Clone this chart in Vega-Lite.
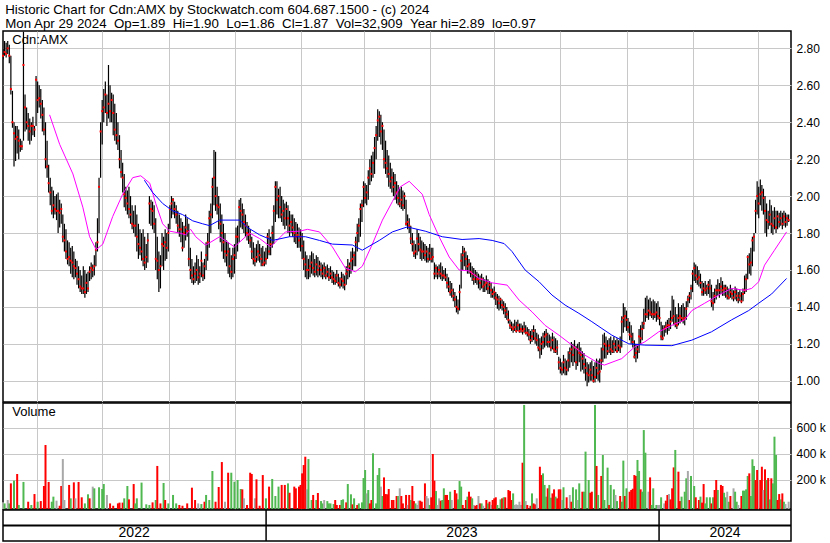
{
"$schema":"https://vega.github.io/schema/vega-lite/v6.json",
"padding":{"left":1,"top":2,"right":0,"bottom":0},
"background":"white",
"bounds":"flush",
"resolve":{"scale":{"color":"independent"}},
"title":{"text":["Historic Chart for Cdn:AMX by Stockwatch.com 604.687.1500 - (c) 2024","Mon Apr 29 2024 \u00a0Op=1.89 \u00a0Hi=1.90 \u00a0Lo=1.86 \u00a0Cl=1.87 \u00a0Vol=32,909 \u00a0Year hi=2.89 \u00a0lo=0.97"],"anchor":"start","font":"Liberation Sans","fontSize":13.3,"fontWeight":"normal","lineHeight":14,"color":"black","offset":0,"dx":4},
"spacing":1,
"config":{"view":{"stroke":"black","strokeWidth":1.5},"font":"Liberation Sans","axis":{"labelFont":"Liberation Sans","labelFontSize":12,"labelColor":"#000000","gridColor":"#c8c8c8","gridWidth":1,"ticks":false,"domain":false,"title":null,"labelOverlap":false}},
"datasets":{
"px":[
{"d":0,"h":2.8,"l":2.74,"c":2.76},{"d":1,"h":2.84,"l":2.76,"c":2.78},{"d":2,"h":2.83,"l":2.75,"c":2.77},{"d":3,"h":2.84,"l":2.77,"c":2.8},{"d":4,"h":2.82,"l":2.72,"c":2.76},{"d":5,"h":2.76,"l":2.55,"c":2.58},{"d":6,"h":2.57,"l":2.37,"c":2.4},{"d":7,"h":2.4,"l":2.16,"c":2.34},{"d":8,"h":2.38,"l":2.19,"c":2.31},{"d":9,"h":2.38,"l":2.23,"c":2.32},
{"d":10,"h":2.36,"l":2.2,"c":2.3},{"d":11,"h":2.31,"l":2.24,"c":2.27},{"d":12,"h":2.3,"l":2.25,"c":2.27},{"d":13,"h":2.89,"l":2.3,"c":2.71},{"d":14,"h":2.55,"l":2.35,"c":2.48},{"d":15,"h":2.48,"l":2.36,"c":2.4},{"d":16,"h":2.45,"l":2.3,"c":2.38},{"d":17,"h":2.42,"l":2.28,"c":2.35},{"d":18,"h":2.4,"l":2.3,"c":2.38},{"d":19,"h":2.43,"l":2.33,"c":2.38},
{"d":20,"h":2.38,"l":2.32,"c":2.36},{"d":21,"h":2.65,"l":2.38,"c":2.63},{"d":22,"h":2.62,"l":2.45,"c":2.52},{"d":23,"h":2.6,"l":2.48,"c":2.53},{"d":24,"h":2.58,"l":2.42,"c":2.5},{"d":25,"h":2.52,"l":2.35,"c":2.44},{"d":26,"h":2.48,"l":2.33,"c":2.36},{"d":27,"h":2.4,"l":2.15,"c":2.2},{"d":28,"h":2.3,"l":2.1,"c":2.16},{"d":29,"h":2.17,"l":2.02,"c":2.07},
{"d":30,"h":2.1,"l":1.95,"c":2.02},{"d":31,"h":2.05,"l":1.9,"c":1.92},{"d":32,"h":2.03,"l":1.88,"c":1.95},{"d":33,"h":2.0,"l":1.9,"c":1.93},{"d":34,"h":2.01,"l":1.87,"c":1.92},{"d":35,"h":2.02,"l":1.8,"c":1.92},{"d":36,"h":1.98,"l":1.83,"c":1.91},{"d":37,"h":1.96,"l":1.85,"c":1.93},{"d":38,"h":1.9,"l":1.75,"c":1.78},{"d":39,"h":1.85,"l":1.7,"c":1.76},
{"d":40,"h":1.82,"l":1.66,"c":1.7},{"d":41,"h":1.76,"l":1.63,"c":1.66},{"d":42,"h":1.75,"l":1.62,"c":1.67},{"d":43,"h":1.72,"l":1.58,"c":1.65},{"d":44,"h":1.73,"l":1.56,"c":1.64},{"d":45,"h":1.7,"l":1.55,"c":1.62},{"d":46,"h":1.66,"l":1.56,"c":1.61},{"d":47,"h":1.65,"l":1.52,"c":1.58},{"d":48,"h":1.62,"l":1.5,"c":1.55},{"d":49,"h":1.6,"l":1.48,"c":1.51},
{"d":50,"h":1.57,"l":1.47,"c":1.5},{"d":51,"h":1.62,"l":1.47,"c":1.5},{"d":52,"h":1.6,"l":1.45,"c":1.48},{"d":53,"h":1.58,"l":1.47,"c":1.53},{"d":54,"h":1.59,"l":1.48,"c":1.5},{"d":55,"h":1.62,"l":1.54,"c":1.59},{"d":56,"h":1.64,"l":1.55,"c":1.61},{"d":57,"h":1.63,"l":1.56,"c":1.6},{"d":58,"h":1.68,"l":1.57,"c":1.62},{"d":59,"h":1.75,"l":1.62,"c":1.71},
{"d":60,"h":1.88,"l":1.7,"c":1.75},{"d":61,"h":2.1,"l":1.8,"c":2.05},{"d":62,"h":2.4,"l":2.1,"c":2.35},{"d":63,"h":2.52,"l":2.28,"c":2.46},{"d":64,"h":2.58,"l":2.4,"c":2.48},{"d":65,"h":2.62,"l":2.45,"c":2.55},{"d":66,"h":2.55,"l":2.38,"c":2.45},{"d":67,"h":2.71,"l":2.42,"c":2.5},{"d":68,"h":2.6,"l":2.4,"c":2.46},{"d":69,"h":2.56,"l":2.4,"c":2.52},
{"d":70,"h":2.55,"l":2.33,"c":2.45},{"d":71,"h":2.5,"l":2.3,"c":2.36},{"d":72,"h":2.45,"l":2.28,"c":2.33},{"d":73,"h":2.4,"l":2.25,"c":2.3},{"d":74,"h":2.33,"l":2.15,"c":2.2},{"d":75,"h":2.25,"l":2.1,"c":2.13},{"d":76,"h":2.18,"l":2.02,"c":2.1},{"d":77,"h":2.12,"l":1.94,"c":2.01},{"d":78,"h":2.05,"l":1.92,"c":1.99},{"d":79,"h":2.03,"l":1.9,"c":1.96},
{"d":80,"h":2.05,"l":1.88,"c":1.93},{"d":81,"h":2.0,"l":1.85,"c":1.9},{"d":82,"h":1.95,"l":1.82,"c":1.85},{"d":83,"h":1.92,"l":1.8,"c":1.84},{"d":84,"h":1.95,"l":1.78,"c":1.84},{"d":85,"h":1.9,"l":1.7,"c":1.78},{"d":86,"h":1.85,"l":1.66,"c":1.74},{"d":87,"h":1.82,"l":1.68,"c":1.72},{"d":88,"h":1.8,"l":1.65,"c":1.7},{"d":89,"h":1.82,"l":1.62,"c":1.66},
{"d":90,"h":1.78,"l":1.6,"c":1.64},{"d":91,"h":1.74,"l":1.61,"c":1.67},{"d":92,"h":1.8,"l":1.64,"c":1.76},{"d":93,"h":2.0,"l":1.85,"c":1.96},{"d":94,"h":1.98,"l":1.84,"c":1.93},{"d":95,"h":1.97,"l":1.82,"c":1.92},{"d":96,"h":1.95,"l":1.8,"c":1.85},{"d":97,"h":1.88,"l":1.6,"c":1.66},{"d":98,"h":1.78,"l":1.55,"c":1.65},{"d":99,"h":1.7,"l":1.48,"c":1.6},
{"d":100,"h":1.68,"l":1.5,"c":1.62},{"d":101,"h":1.8,"l":1.62,"c":1.74},{"d":102,"h":1.78,"l":1.6,"c":1.73},{"d":103,"h":1.82,"l":1.65,"c":1.75},{"d":104,"h":1.8,"l":1.66,"c":1.72},{"d":105,"h":1.85,"l":1.7,"c":1.8},{"d":106,"h":1.95,"l":1.82,"c":1.93},{"d":107,"h":2.0,"l":1.88,"c":1.96},{"d":108,"h":1.99,"l":1.9,"c":1.98},{"d":109,"h":1.97,"l":1.88,"c":1.93},
{"d":110,"h":1.95,"l":1.85,"c":1.9},{"d":111,"h":1.92,"l":1.8,"c":1.84},{"d":112,"h":1.9,"l":1.78,"c":1.82},{"d":113,"h":1.88,"l":1.75,"c":1.82},{"d":114,"h":1.86,"l":1.7,"c":1.72},{"d":115,"h":1.84,"l":1.72,"c":1.8},{"d":116,"h":1.9,"l":1.76,"c":1.83},{"d":117,"h":1.88,"l":1.78,"c":1.81},{"d":118,"h":1.85,"l":1.62,"c":1.66},{"d":119,"h":1.72,"l":1.55,"c":1.6},
{"d":120,"h":1.66,"l":1.53,"c":1.57},{"d":121,"h":1.62,"l":1.52,"c":1.55},{"d":122,"h":1.64,"l":1.53,"c":1.58},{"d":123,"h":1.68,"l":1.54,"c":1.6},{"d":124,"h":1.66,"l":1.52,"c":1.56},{"d":125,"h":1.62,"l":1.53,"c":1.58},{"d":126,"h":1.7,"l":1.56,"c":1.65},{"d":127,"h":1.64,"l":1.54,"c":1.57},{"d":128,"h":1.66,"l":1.55,"c":1.62},{"d":129,"h":1.75,"l":1.6,"c":1.68},
{"d":130,"h":1.8,"l":1.65,"c":1.75},{"d":131,"h":1.92,"l":1.72,"c":1.88},{"d":132,"h":1.96,"l":1.8,"c":1.9},{"d":133,"h":2.1,"l":1.88,"c":2.05},{"d":134,"h":2.25,"l":1.95,"c":2.1},{"d":135,"h":2.24,"l":1.92,"c":2.0},{"d":136,"h":2.05,"l":1.9,"c":1.95},{"d":137,"h":2.0,"l":1.82,"c":1.94},{"d":138,"h":1.96,"l":1.75,"c":1.85},{"d":139,"h":1.9,"l":1.7,"c":1.8},
{"d":140,"h":1.85,"l":1.66,"c":1.75},{"d":141,"h":1.8,"l":1.64,"c":1.7},{"d":142,"h":1.76,"l":1.62,"c":1.68},{"d":143,"h":1.75,"l":1.58,"c":1.7},{"d":144,"h":1.72,"l":1.56,"c":1.62},{"d":145,"h":1.68,"l":1.55,"c":1.59},{"d":146,"h":1.72,"l":1.56,"c":1.66},{"d":147,"h":1.74,"l":1.58,"c":1.68},{"d":148,"h":1.83,"l":1.66,"c":1.78},{"d":149,"h":1.84,"l":1.7,"c":1.78},
{"d":150,"h":1.98,"l":1.75,"c":1.94},{"d":151,"h":1.99,"l":1.83,"c":1.92},{"d":152,"h":1.96,"l":1.82,"c":1.9},{"d":153,"h":1.93,"l":1.8,"c":1.86},{"d":154,"h":1.9,"l":1.78,"c":1.84},{"d":155,"h":1.86,"l":1.76,"c":1.8},{"d":156,"h":1.84,"l":1.74,"c":1.79},{"d":157,"h":1.82,"l":1.72,"c":1.76},{"d":158,"h":1.78,"l":1.66,"c":1.7},{"d":159,"h":1.75,"l":1.63,"c":1.66},
{"d":160,"h":1.72,"l":1.62,"c":1.65},{"d":161,"h":1.74,"l":1.64,"c":1.67},{"d":162,"h":1.76,"l":1.65,"c":1.7},{"d":163,"h":1.74,"l":1.64,"c":1.68},{"d":164,"h":1.72,"l":1.62,"c":1.66},{"d":165,"h":1.73,"l":1.62,"c":1.63},{"d":166,"h":1.7,"l":1.62,"c":1.64},{"d":167,"h":1.72,"l":1.63,"c":1.66},{"d":168,"h":1.8,"l":1.66,"c":1.78},{"d":169,"h":1.82,"l":1.68,"c":1.7},
{"d":170,"h":1.78,"l":1.68,"c":1.74},{"d":171,"h":1.84,"l":1.72,"c":1.8},{"d":172,"h":1.95,"l":1.74,"c":1.92},{"d":173,"h":2.08,"l":1.86,"c":2.05},{"d":174,"h":2.08,"l":1.9,"c":1.98},{"d":175,"h":2.04,"l":1.88,"c":2.0},{"d":176,"h":2.05,"l":1.88,"c":1.94},{"d":177,"h":2.0,"l":1.86,"c":1.9},{"d":178,"h":1.98,"l":1.84,"c":1.92},{"d":179,"h":1.96,"l":1.82,"c":1.88},
{"d":180,"h":1.97,"l":1.84,"c":1.93},{"d":181,"h":1.95,"l":1.8,"c":1.88},{"d":182,"h":1.92,"l":1.78,"c":1.84},{"d":183,"h":1.9,"l":1.8,"c":1.86},{"d":184,"h":1.9,"l":1.78,"c":1.83},{"d":185,"h":1.88,"l":1.75,"c":1.8},{"d":186,"h":1.86,"l":1.74,"c":1.78},{"d":187,"h":1.85,"l":1.72,"c":1.79},{"d":188,"h":1.83,"l":1.72,"c":1.76},{"d":189,"h":1.82,"l":1.7,"c":1.78},
{"d":190,"h":1.8,"l":1.66,"c":1.73},{"d":191,"h":1.76,"l":1.6,"c":1.66},{"d":192,"h":1.7,"l":1.56,"c":1.63},{"d":193,"h":1.68,"l":1.55,"c":1.6},{"d":194,"h":1.66,"l":1.55,"c":1.6},{"d":195,"h":1.68,"l":1.56,"c":1.62},{"d":196,"h":1.7,"l":1.58,"c":1.64},{"d":197,"h":1.69,"l":1.57,"c":1.61},{"d":198,"h":1.66,"l":1.56,"c":1.59},{"d":199,"h":1.68,"l":1.57,"c":1.63},
{"d":200,"h":1.67,"l":1.56,"c":1.6},{"d":201,"h":1.65,"l":1.57,"c":1.62},{"d":202,"h":1.64,"l":1.56,"c":1.6},{"d":203,"h":1.63,"l":1.55,"c":1.58},{"d":204,"h":1.64,"l":1.56,"c":1.61},{"d":205,"h":1.62,"l":1.55,"c":1.57},{"d":206,"h":1.63,"l":1.56,"c":1.59},{"d":207,"h":1.61,"l":1.54,"c":1.56},{"d":208,"h":1.62,"l":1.55,"c":1.58},{"d":209,"h":1.6,"l":1.53,"c":1.56},
{"d":210,"h":1.59,"l":1.52,"c":1.55},{"d":211,"h":1.58,"l":1.52,"c":1.54},{"d":212,"h":1.6,"l":1.53,"c":1.57},{"d":213,"h":1.58,"l":1.51,"c":1.53},{"d":214,"h":1.56,"l":1.5,"c":1.52},{"d":215,"h":1.59,"l":1.51,"c":1.55},{"d":216,"h":1.58,"l":1.5,"c":1.54},{"d":217,"h":1.57,"l":1.49,"c":1.52},{"d":218,"h":1.62,"l":1.52,"c":1.58},{"d":219,"h":1.66,"l":1.55,"c":1.6},
{"d":220,"h":1.64,"l":1.56,"c":1.62},{"d":221,"h":1.7,"l":1.58,"c":1.65},{"d":222,"h":1.72,"l":1.6,"c":1.66},{"d":223,"h":1.7,"l":1.62,"c":1.68},{"d":224,"h":1.78,"l":1.62,"c":1.75},{"d":225,"h":1.85,"l":1.7,"c":1.8},{"d":226,"h":1.88,"l":1.75,"c":1.84},{"d":227,"h":1.96,"l":1.78,"c":1.93},{"d":228,"h":1.98,"l":1.86,"c":1.95},{"d":229,"h":2.08,"l":1.94,"c":2.05},
{"d":230,"h":2.07,"l":1.96,"c":1.99},{"d":231,"h":2.06,"l":1.95,"c":2.02},{"d":232,"h":2.14,"l":1.98,"c":2.1},{"d":233,"h":2.2,"l":2.06,"c":2.15},{"d":234,"h":2.22,"l":2.08,"c":2.12},{"d":235,"h":2.24,"l":2.1,"c":2.18},{"d":236,"h":2.32,"l":2.12,"c":2.26},{"d":237,"h":2.38,"l":2.2,"c":2.33},{"d":238,"h":2.47,"l":2.3,"c":2.41},{"d":239,"h":2.46,"l":2.32,"c":2.43},
{"d":240,"h":2.44,"l":2.28,"c":2.35},{"d":241,"h":2.4,"l":2.25,"c":2.38},{"d":242,"h":2.36,"l":2.15,"c":2.2},{"d":243,"h":2.3,"l":2.12,"c":2.18},{"d":244,"h":2.25,"l":2.1,"c":2.15},{"d":245,"h":2.22,"l":2.05,"c":2.12},{"d":246,"h":2.18,"l":2.04,"c":2.08},{"d":247,"h":2.15,"l":2.02,"c":2.1},{"d":248,"h":2.13,"l":2.0,"c":2.05},{"d":249,"h":2.12,"l":1.98,"c":2.07},
{"d":250,"h":2.08,"l":1.96,"c":2.02},{"d":251,"h":2.06,"l":1.95,"c":1.99},{"d":252,"h":2.04,"l":1.94,"c":1.96},{"d":253,"h":2.05,"l":1.93,"c":1.98},{"d":254,"h":2.03,"l":1.92,"c":1.95},{"d":255,"h":2.02,"l":1.93,"c":2.0},{"d":256,"h":1.98,"l":1.84,"c":1.85},{"d":257,"h":1.9,"l":1.82,"c":1.86},{"d":258,"h":1.88,"l":1.8,"c":1.84},{"d":259,"h":1.84,"l":1.74,"c":1.77},
{"d":260,"h":1.8,"l":1.7,"c":1.74},{"d":261,"h":1.76,"l":1.67,"c":1.69},{"d":262,"h":1.74,"l":1.66,"c":1.7},{"d":263,"h":1.82,"l":1.68,"c":1.77},{"d":264,"h":1.8,"l":1.7,"c":1.74},{"d":265,"h":1.78,"l":1.66,"c":1.71},{"d":266,"h":1.76,"l":1.65,"c":1.7},{"d":267,"h":1.75,"l":1.66,"c":1.7},{"d":268,"h":1.74,"l":1.65,"c":1.68},{"d":269,"h":1.73,"l":1.64,"c":1.7},
{"d":270,"h":1.72,"l":1.64,"c":1.66},{"d":271,"h":1.74,"l":1.65,"c":1.69},{"d":272,"h":1.72,"l":1.64,"c":1.66},{"d":273,"h":1.72,"l":1.64,"c":1.67},{"d":274,"h":1.64,"l":1.55,"c":1.58},{"d":275,"h":1.63,"l":1.56,"c":1.61},{"d":276,"h":1.62,"l":1.55,"c":1.58},{"d":277,"h":1.63,"l":1.56,"c":1.6},{"d":278,"h":1.64,"l":1.55,"c":1.58},{"d":279,"h":1.62,"l":1.54,"c":1.57},
{"d":280,"h":1.6,"l":1.55,"c":1.57},{"d":281,"h":1.61,"l":1.54,"c":1.56},{"d":282,"h":1.58,"l":1.5,"c":1.53},{"d":283,"h":1.56,"l":1.48,"c":1.51},{"d":284,"h":1.54,"l":1.46,"c":1.48},{"d":285,"h":1.53,"l":1.45,"c":1.49},{"d":286,"h":1.5,"l":1.43,"c":1.46},{"d":287,"h":1.48,"l":1.4,"c":1.44},{"d":288,"h":1.46,"l":1.37,"c":1.4},{"d":289,"h":1.44,"l":1.36,"c":1.39},
{"d":290,"h":1.52,"l":1.38,"c":1.48},{"d":291,"h":1.69,"l":1.5,"c":1.65},{"d":292,"h":1.73,"l":1.6,"c":1.68},{"d":293,"h":1.72,"l":1.62,"c":1.7},{"d":294,"h":1.7,"l":1.6,"c":1.66},{"d":295,"h":1.68,"l":1.58,"c":1.62},{"d":296,"h":1.66,"l":1.58,"c":1.63},{"d":297,"h":1.64,"l":1.56,"c":1.59},{"d":298,"h":1.62,"l":1.54,"c":1.58},{"d":299,"h":1.61,"l":1.52,"c":1.55},
{"d":300,"h":1.6,"l":1.53,"c":1.57},{"d":301,"h":1.59,"l":1.52,"c":1.55},{"d":302,"h":1.58,"l":1.5,"c":1.55},{"d":303,"h":1.57,"l":1.49,"c":1.53},{"d":304,"h":1.58,"l":1.5,"c":1.55},{"d":305,"h":1.56,"l":1.48,"c":1.51},{"d":306,"h":1.55,"l":1.48,"c":1.52},{"d":307,"h":1.57,"l":1.49,"c":1.53},{"d":308,"h":1.55,"l":1.47,"c":1.5},{"d":309,"h":1.54,"l":1.47,"c":1.52},
{"d":310,"h":1.53,"l":1.45,"c":1.49},{"d":311,"h":1.5,"l":1.45,"c":1.47},{"d":312,"h":1.51,"l":1.44,"c":1.48},{"d":313,"h":1.48,"l":1.41,"c":1.45},{"d":314,"h":1.47,"l":1.39,"c":1.44},{"d":315,"h":1.46,"l":1.38,"c":1.42},{"d":316,"h":1.45,"l":1.39,"c":1.44},{"d":317,"h":1.44,"l":1.38,"c":1.41},{"d":318,"h":1.43,"l":1.36,"c":1.4},{"d":319,"h":1.42,"l":1.34,"c":1.38},
{"d":320,"h":1.4,"l":1.33,"c":1.36},{"d":321,"h":1.38,"l":1.31,"c":1.33},{"d":322,"h":1.33,"l":1.28,"c":1.3},{"d":323,"h":1.32,"l":1.27,"c":1.29},{"d":324,"h":1.31,"l":1.26,"c":1.28},{"d":325,"h":1.33,"l":1.27,"c":1.29},{"d":326,"h":1.32,"l":1.26,"c":1.27},{"d":327,"h":1.33,"l":1.27,"c":1.3},{"d":328,"h":1.31,"l":1.26,"c":1.27},{"d":329,"h":1.31,"l":1.26,"c":1.28},
{"d":330,"h":1.3,"l":1.25,"c":1.27},{"d":331,"h":1.32,"l":1.26,"c":1.28},{"d":332,"h":1.3,"l":1.25,"c":1.26},{"d":333,"h":1.29,"l":1.24,"c":1.26},{"d":334,"h":1.28,"l":1.22,"c":1.25},{"d":335,"h":1.27,"l":1.2,"c":1.22},{"d":336,"h":1.28,"l":1.21,"c":1.24},{"d":337,"h":1.3,"l":1.22,"c":1.27},{"d":338,"h":1.28,"l":1.2,"c":1.23},{"d":339,"h":1.26,"l":1.19,"c":1.22},
{"d":340,"h":1.25,"l":1.16,"c":1.18},{"d":341,"h":1.23,"l":1.12,"c":1.17},{"d":342,"h":1.24,"l":1.14,"c":1.2},{"d":343,"h":1.26,"l":1.17,"c":1.21},{"d":344,"h":1.27,"l":1.18,"c":1.24},{"d":345,"h":1.28,"l":1.19,"c":1.25},{"d":346,"h":1.26,"l":1.18,"c":1.21},{"d":347,"h":1.25,"l":1.18,"c":1.21},{"d":348,"h":1.24,"l":1.16,"c":1.18},{"d":349,"h":1.26,"l":1.17,"c":1.22},
{"d":350,"h":1.24,"l":1.15,"c":1.17},{"d":351,"h":1.23,"l":1.15,"c":1.16},{"d":352,"h":1.22,"l":1.14,"c":1.18},{"d":353,"h":1.13,"l":1.06,"c":1.1},{"d":354,"h":1.12,"l":1.04,"c":1.07},{"d":355,"h":1.1,"l":1.03,"c":1.06},{"d":356,"h":1.14,"l":1.04,"c":1.1},{"d":357,"h":1.12,"l":1.03,"c":1.07},{"d":358,"h":1.11,"l":1.03,"c":1.06},{"d":359,"h":1.16,"l":1.05,"c":1.11},
{"d":360,"h":1.18,"l":1.07,"c":1.15},{"d":361,"h":1.21,"l":1.1,"c":1.17},{"d":362,"h":1.2,"l":1.08,"c":1.14},{"d":363,"h":1.22,"l":1.1,"c":1.18},{"d":364,"h":1.19,"l":1.06,"c":1.1},{"d":365,"h":1.2,"l":1.08,"c":1.17},{"d":366,"h":1.21,"l":1.1,"c":1.15},{"d":367,"h":1.18,"l":1.05,"c":1.14},{"d":368,"h":1.16,"l":1.06,"c":1.12},{"d":369,"h":1.15,"l":1.04,"c":1.09},
{"d":370,"h":1.12,"l":1.0,"c":1.07},{"d":371,"h":1.1,"l":0.97,"c":1.04},{"d":372,"h":1.09,"l":0.99,"c":1.03},{"d":373,"h":1.1,"l":1.0,"c":1.06},{"d":374,"h":1.11,"l":1.0,"c":1.03},{"d":375,"h":1.08,"l":0.99,"c":1.0},{"d":376,"h":1.1,"l":0.99,"c":1.02},{"d":377,"h":1.12,"l":1.01,"c":1.07},{"d":378,"h":1.11,"l":1.0,"c":1.04},{"d":379,"h":1.12,"l":0.99,"c":1.05},
{"d":380,"h":1.18,"l":1.06,"c":1.11},{"d":381,"h":1.25,"l":1.1,"c":1.17},{"d":382,"h":1.26,"l":1.12,"c":1.2},{"d":383,"h":1.24,"l":1.12,"c":1.19},{"d":384,"h":1.22,"l":1.14,"c":1.16},{"d":385,"h":1.23,"l":1.15,"c":1.19},{"d":386,"h":1.24,"l":1.14,"c":1.17},{"d":387,"h":1.22,"l":1.15,"c":1.16},{"d":388,"h":1.24,"l":1.15,"c":1.2},{"d":389,"h":1.22,"l":1.16,"c":1.18},
{"d":390,"h":1.23,"l":1.15,"c":1.16},{"d":391,"h":1.22,"l":1.16,"c":1.19},{"d":392,"h":1.24,"l":1.15,"c":1.18},{"d":393,"h":1.35,"l":1.18,"c":1.32},{"d":394,"h":1.42,"l":1.26,"c":1.34},{"d":395,"h":1.4,"l":1.29,"c":1.35},{"d":396,"h":1.38,"l":1.27,"c":1.33},{"d":397,"h":1.34,"l":1.26,"c":1.29},{"d":398,"h":1.32,"l":1.22,"c":1.25},{"d":399,"h":1.3,"l":1.2,"c":1.24},
{"d":400,"h":1.26,"l":1.18,"c":1.21},{"d":401,"h":1.22,"l":1.12,"c":1.13},{"d":402,"h":1.2,"l":1.1,"c":1.15},{"d":403,"h":1.2,"l":1.12,"c":1.17},{"d":404,"h":1.28,"l":1.15,"c":1.24},{"d":405,"h":1.3,"l":1.2,"c":1.23},{"d":406,"h":1.32,"l":1.22,"c":1.28},{"d":407,"h":1.39,"l":1.28,"c":1.31},{"d":408,"h":1.45,"l":1.32,"c":1.36},{"d":409,"h":1.46,"l":1.34,"c":1.36},
{"d":410,"h":1.44,"l":1.33,"c":1.38},{"d":411,"h":1.45,"l":1.35,"c":1.37},{"d":412,"h":1.43,"l":1.34,"c":1.36},{"d":413,"h":1.44,"l":1.33,"c":1.36},{"d":414,"h":1.43,"l":1.34,"c":1.36},{"d":415,"h":1.42,"l":1.32,"c":1.37},{"d":416,"h":1.43,"l":1.33,"c":1.35},{"d":417,"h":1.4,"l":1.3,"c":1.34},{"d":418,"h":1.32,"l":1.22,"c":1.24},{"d":419,"h":1.3,"l":1.22,"c":1.23},
{"d":420,"h":1.3,"l":1.24,"c":1.28},{"d":421,"h":1.32,"l":1.26,"c":1.29},{"d":422,"h":1.33,"l":1.25,"c":1.3},{"d":423,"h":1.34,"l":1.27,"c":1.3},{"d":424,"h":1.38,"l":1.28,"c":1.32},{"d":425,"h":1.46,"l":1.32,"c":1.34},{"d":426,"h":1.44,"l":1.3,"c":1.35},{"d":427,"h":1.4,"l":1.29,"c":1.31},{"d":428,"h":1.36,"l":1.28,"c":1.3},{"d":429,"h":1.42,"l":1.3,"c":1.34},
{"d":430,"h":1.4,"l":1.31,"c":1.35},{"d":431,"h":1.41,"l":1.32,"c":1.34},{"d":432,"h":1.42,"l":1.31,"c":1.33},{"d":433,"h":1.4,"l":1.3,"c":1.34},{"d":434,"h":1.43,"l":1.33,"c":1.39},{"d":435,"h":1.46,"l":1.4,"c":1.44},{"d":436,"h":1.48,"l":1.42,"c":1.46},{"d":437,"h":1.52,"l":1.44,"c":1.5},{"d":438,"h":1.6,"l":1.48,"c":1.58},{"d":439,"h":1.64,"l":1.54,"c":1.61},
{"d":440,"h":1.63,"l":1.53,"c":1.57},{"d":441,"h":1.62,"l":1.52,"c":1.55},{"d":442,"h":1.6,"l":1.51,"c":1.56},{"d":443,"h":1.58,"l":1.5,"c":1.53},{"d":444,"h":1.54,"l":1.46,"c":1.48},{"d":445,"h":1.53,"l":1.46,"c":1.5},{"d":446,"h":1.54,"l":1.47,"c":1.49},{"d":447,"h":1.52,"l":1.46,"c":1.5},{"d":448,"h":1.54,"l":1.47,"c":1.52},{"d":449,"h":1.55,"l":1.45,"c":1.5},
{"d":450,"h":1.52,"l":1.4,"c":1.43},{"d":451,"h":1.48,"l":1.38,"c":1.42},{"d":452,"h":1.5,"l":1.42,"c":1.46},{"d":453,"h":1.52,"l":1.44,"c":1.49},{"d":454,"h":1.55,"l":1.46,"c":1.49},{"d":455,"h":1.53,"l":1.45,"c":1.49},{"d":456,"h":1.56,"l":1.47,"c":1.51},{"d":457,"h":1.54,"l":1.46,"c":1.49},{"d":458,"h":1.52,"l":1.46,"c":1.5},{"d":459,"h":1.52,"l":1.45,"c":1.5},
{"d":460,"h":1.51,"l":1.44,"c":1.46},{"d":461,"h":1.5,"l":1.44,"c":1.45},{"d":462,"h":1.52,"l":1.45,"c":1.48},{"d":463,"h":1.5,"l":1.44,"c":1.47},{"d":464,"h":1.49,"l":1.43,"c":1.45},{"d":465,"h":1.51,"l":1.44,"c":1.48},{"d":466,"h":1.5,"l":1.43,"c":1.46},{"d":467,"h":1.48,"l":1.42,"c":1.44},{"d":468,"h":1.49,"l":1.43,"c":1.46},{"d":469,"h":1.48,"l":1.42,"c":1.43},
{"d":470,"h":1.5,"l":1.43,"c":1.47},{"d":471,"h":1.57,"l":1.47,"c":1.49},{"d":472,"h":1.58,"l":1.48,"c":1.55},{"d":473,"h":1.68,"l":1.55,"c":1.67},{"d":474,"h":1.69,"l":1.58,"c":1.63},{"d":475,"h":1.72,"l":1.57,"c":1.64},{"d":476,"h":1.78,"l":1.62,"c":1.76},{"d":477,"h":1.8,"l":1.7,"c":1.78},{"d":478,"h":1.98,"l":1.8,"c":1.92},{"d":479,"h":2.08,"l":1.9,"c":2.0},
{"d":480,"h":2.05,"l":1.88,"c":1.96},{"d":481,"h":2.09,"l":1.95,"c":2.01},{"d":482,"h":2.06,"l":1.92,"c":2.02},{"d":483,"h":2.04,"l":1.9,"c":1.99},{"d":484,"h":2.0,"l":1.8,"c":1.92},{"d":485,"h":1.96,"l":1.78,"c":1.87},{"d":486,"h":1.92,"l":1.82,"c":1.86},{"d":487,"h":1.98,"l":1.84,"c":1.9},{"d":488,"h":1.95,"l":1.8,"c":1.85},{"d":489,"h":1.92,"l":1.79,"c":1.84},
{"d":490,"h":1.94,"l":1.82,"c":1.88},{"d":491,"h":1.92,"l":1.8,"c":1.83},{"d":492,"h":1.92,"l":1.82,"c":1.89},{"d":493,"h":1.91,"l":1.83,"c":1.86},{"d":494,"h":1.92,"l":1.84,"c":1.88},{"d":495,"h":1.91,"l":1.82,"c":1.85},{"d":496,"h":1.92,"l":1.84,"c":1.89},{"d":497,"h":1.91,"l":1.83,"c":1.86},{"d":498,"h":1.9,"l":1.84,"c":1.88},{"d":499,"h":1.9,"l":1.86,"c":1.87}
],
"ma":[
{"d":29.6,"k":"a","p":2.44},{"d":36,"k":"a","p":2.28},{"d":44.4,"k":"a","p":2.12},{"d":50.7,"k":"a","p":1.94},{"d":55,"k":"a","p":1.78},{"d":59.2,"k":"a","p":1.71},{"d":63.4,"k":"a","p":1.74},{"d":69.7,"k":"a","p":1.89},{"d":76,"k":"a","p":2.01},{"d":82.4,"k":"a","p":2.1},{"d":87.5,"k":"a","p":2.11},{"d":93.2,"k":"a","p":2.07},{"d":97,"k":"a","p":1.96},{"d":101.4,"k":"a","p":1.85},{"d":105.9,"k":"a","p":1.81},{"d":112.2,"k":"a","p":1.8},{"d":116,"k":"a","p":1.79},{"d":119.2,"k":"a","p":1.82},{"d":122.4,"k":"a","p":1.78},{"d":128.7,"k":"a","p":1.734},{"d":137.6,"k":"a","p":1.78},{"d":147,"k":"a","p":1.725},{"d":156.6,"k":"a","p":1.8},{"d":163,"k":"a","p":1.77},{"d":170,"k":"a","p":1.725},{"d":179.4,"k":"a","p":1.806},{"d":188.3,"k":"a","p":1.81},{"d":193.4,"k":"a","p":1.82},{"d":201,"k":"a","p":1.806},{"d":209.2,"k":"a","p":1.725},{"d":217.5,"k":"a","p":1.61},{"d":223.8,"k":"a","p":1.59},{"d":228.2,"k":"a","p":1.62},{"d":234.6,"k":"a","p":1.74},{"d":241,"k":"a","p":1.87},{"d":247.3,"k":"a","p":1.97},{"d":252.3,"k":"a","p":2.05},{"d":258,"k":"a","p":2.08},{"d":266.3,"k":"a","p":2.01},{"d":270.7,"k":"a","p":1.9},{"d":277,"k":"a","p":1.78},{"d":283.4,"k":"a","p":1.67},{"d":289.7,"k":"a","p":1.6},{"d":296,"k":"a","p":1.595},{"d":302.4,"k":"a","p":1.554},{"d":310.7,"k":"a","p":1.53},{"d":320.2,"k":"a","p":1.518},{"d":327.8,"k":"a","p":1.437},{"d":336,"k":"a","p":1.373},{"d":344.3,"k":"a","p":1.3},{"d":353.1,"k":"a","p":1.247},{"d":361.4,"k":"a","p":1.193},{"d":369.6,"k":"a","p":1.139},{"d":378.5,"k":"a","p":1.094},{"d":382,"k":"a","p":1.085},{"d":393,"k":"a","p":1.12},{"d":401.3,"k":"a","p":1.184},{"d":407.7,"k":"a","p":1.211},{"d":416.5,"k":"a","p":1.265},{"d":424.8,"k":"a","p":1.3},{"d":433,"k":"a","p":1.33},{"d":437.5,"k":"a","p":1.38},{"d":445.7,"k":"a","p":1.42},{"d":454.6,"k":"a","p":1.464},{"d":462.8,"k":"a","p":1.5},{"d":471,"k":"a","p":1.49},{"d":475.5,"k":"a","p":1.5},{"d":480,"k":"a","p":1.536},{"d":483.7,"k":"a","p":1.626},{"d":490,"k":"a","p":1.707},{"d":497.7,"k":"a","p":1.806},
{"d":89.8,"k":"b","p":2.086},{"d":95,"k":"b","p":2.02},{"d":101.4,"k":"b","p":1.96},{"d":107.8,"k":"b","p":1.92},{"d":114,"k":"b","p":1.9},{"d":120.5,"k":"b","p":1.866},{"d":126.8,"k":"b","p":1.85},{"d":131.2,"k":"b","p":1.84},{"d":137.6,"k":"b","p":1.87},{"d":150.3,"k":"b","p":1.87},{"d":155.3,"k":"b","p":1.83},{"d":163,"k":"b","p":1.79},{"d":171.2,"k":"b","p":1.76},{"d":182,"k":"b","p":1.78},{"d":192.1,"k":"b","p":1.78},{"d":201,"k":"b","p":1.76},{"d":209.2,"k":"b","p":1.74},{"d":222,"k":"b","p":1.735},{"d":228.2,"k":"b","p":1.707},{"d":239,"k":"b","p":1.76},{"d":247.3,"k":"b","p":1.806},{"d":256.8,"k":"b","p":1.833},{"d":268.2,"k":"b","p":1.81},{"d":279,"k":"b","p":1.78},{"d":291.6,"k":"b","p":1.765},{"d":302.4,"k":"b","p":1.77},{"d":310.7,"k":"b","p":1.76},{"d":318.3,"k":"b","p":1.743},{"d":323.3,"k":"b","p":1.7},{"d":331.6,"k":"b","p":1.6},{"d":340.5,"k":"b","p":1.536},{"d":348.7,"k":"b","p":1.464},{"d":357,"k":"b","p":1.41},{"d":365.8,"k":"b","p":1.365},{"d":374,"k":"b","p":1.32},{"d":380.4,"k":"b","p":1.283},{"d":386.7,"k":"b","p":1.247},{"d":397.5,"k":"b","p":1.2},{"d":407.7,"k":"b","p":1.193},{"d":424.8,"k":"b","p":1.19},{"d":437.5,"k":"b","p":1.22},{"d":450,"k":"b","p":1.265},{"d":462.8,"k":"b","p":1.33},{"d":473.6,"k":"b","p":1.38},{"d":480,"k":"b","p":1.42},{"d":488.2,"k":"b","p":1.47},{"d":497.7,"k":"b","p":1.554}
],
"vol":[
{"d":0,"v":28,"k":"n"},{"d":1,"v":20,"k":"g"},{"d":3,"v":46,"k":"n"},{"d":4,"v":20,"k":"g"},{"d":5,"v":174,"k":"r"},{"d":7,"v":195,"k":"g"},{"d":9,"v":246,"k":"r"},{"d":10,"v":8,"k":"g"},{"d":13,"v":185,"k":"g"},{"d":16,"v":33,"k":"r"},{"d":18,"v":8,"k":"g"},{"d":20,"v":92,"k":"r"},{"d":22,"v":33,"k":"g"},{"d":24,"v":38,"k":"r"},{"d":26,"v":154,"k":"r"},{"d":27,"v":469,"k":"r"},{"d":29,"v":185,"k":"r"},{"d":31,"v":33,"k":"g"},{"d":32,"v":72,"k":"g"},{"d":34,"v":41,"k":"n"},{"d":36,"v":2,"k":"r"},{"d":37,"v":154,"k":"r"},{"d":38,"v":361,"k":"n"},{"d":39,"v":46,"k":"n"},
{"d":42,"v":162,"k":"r"},{"d":43,"v":59,"k":"g"},{"d":45,"v":182,"k":"r"},{"d":46,"v":59,"k":"n"},{"d":48,"v":185,"k":"r"},{"d":50,"v":67,"k":"r"},{"d":52,"v":20,"k":"g"},{"d":54,"v":90,"k":"g"},{"d":55,"v":59,"k":"r"},{"d":57,"v":149,"k":"n"},{"d":58,"v":136,"k":"g"},{"d":61,"v":144,"k":"g"},{"d":63,"v":131,"k":"g"},{"d":64,"v":169,"k":"g"},{"d":66,"v":85,"k":"n"},{"d":68,"v":20,"k":"r"},{"d":70,"v":2,"k":"r"},{"d":73,"v":20,"k":"r"},{"d":74,"v":26,"k":"r"},{"d":76,"v":26,"k":"r"},{"d":77,"v":59,"k":"g"},{"d":79,"v":154,"k":"g"},
{"d":80,"v":51,"k":"r"},{"d":83,"v":169,"k":"r"},{"d":84,"v":20,"k":"g"},{"d":85,"v":59,"k":"g"},{"d":88,"v":180,"k":"g"},{"d":91,"v":13,"k":"g"},{"d":93,"v":8,"k":"g"},{"d":95,"v":28,"k":"r"},{"d":97,"v":46,"k":"g"},{"d":98,"v":308,"k":"r"},{"d":100,"v":20,"k":"r"},{"d":102,"v":177,"k":"g"},{"d":103,"v":46,"k":"r"},{"d":105,"v":20,"k":"g"},{"d":108,"v":85,"k":"g"},{"d":110,"v":20,"k":"g"},{"d":112,"v":8,"k":"r"},{"d":114,"v":2,"k":"r"},{"d":117,"v":20,"k":"r"},{"d":120,"v":141,"k":"r"},
{"d":122,"v":46,"k":"r"},{"d":124,"v":20,"k":"n"},{"d":126,"v":15,"k":"g"},{"d":128,"v":33,"k":"r"},{"d":129,"v":85,"k":"g"},{"d":131,"v":46,"k":"g"},{"d":133,"v":269,"k":"g"},{"d":135,"v":33,"k":"r"},{"d":137,"v":146,"k":"r"},{"d":139,"v":338,"k":"r"},{"d":141,"v":33,"k":"n"},{"d":143,"v":256,"k":"r"},{"d":145,"v":256,"k":"g"},{"d":147,"v":187,"k":"g"},{"d":149,"v":200,"k":"g"},{"d":151,"v":131,"k":"g"},{"d":152,"v":128,"k":"r"},{"d":153,"v":59,"k":"n"},{"d":155,"v":8,"k":"r"},{"d":157,"v":256,"k":"r"},{"d":158,"v":246,"k":"r"},
{"d":160,"v":59,"k":"n"},{"d":161,"v":205,"k":"r"},{"d":163,"v":2,"k":"r"},{"d":165,"v":238,"k":"r"},{"d":167,"v":59,"k":"g"},{"d":169,"v":149,"k":"r"},{"d":171,"v":208,"k":"g"},{"d":173,"v":77,"k":"g"},{"d":175,"v":149,"k":"g"},{"d":177,"v":162,"k":"r"},{"d":179,"v":162,"k":"r"},{"d":181,"v":174,"k":"g"},{"d":182,"v":102,"k":"r"},{"d":185,"v":149,"k":"r"},{"d":186,"v":136,"k":"r"},{"d":188,"v":149,"k":"r"},{"d":189,"v":162,"k":"r"},{"d":190,"v":251,"k":"r"},{"d":191,"v":315,"k":"r"},{"d":192,"v":379,"k":"r"},{"d":193,"v":128,"k":"n"},{"d":194,"v":361,"k":"g"},{"d":196,"v":46,"k":"g"},{"d":197,"v":85,"k":"r"},{"d":199,"v":46,"k":"g"},
{"d":200,"v":100,"k":"r"},{"d":202,"v":38,"k":"g"},{"d":203,"v":20,"k":"g"},{"d":204,"v":46,"k":"n"},{"d":206,"v":38,"k":"g"},{"d":207,"v":20,"k":"g"},{"d":208,"v":20,"k":"g"},{"d":210,"v":15,"k":"g"},{"d":211,"v":46,"k":"r"},{"d":212,"v":8,"k":"r"},{"d":214,"v":8,"k":"r"},{"d":215,"v":46,"k":"g"},{"d":216,"v":51,"k":"g"},{"d":218,"v":28,"k":"r"},{"d":219,"v":169,"k":"g"},{"d":221,"v":90,"k":"g"},{"d":222,"v":13,"k":"r"},{"d":223,"v":59,"k":"g"},{"d":225,"v":8,"k":"r"},{"d":226,"v":20,"k":"g"},{"d":228,"v":28,"k":"g"},{"d":229,"v":215,"k":"g"},
{"d":230,"v":277,"k":"g"},{"d":231,"v":97,"k":"n"},{"d":232,"v":123,"k":"g"},{"d":233,"v":20,"k":"r"},{"d":234,"v":46,"k":"r"},{"d":235,"v":405,"k":"g"},{"d":237,"v":20,"k":"g"},{"d":238,"v":238,"k":"g"},{"d":239,"v":292,"k":"g"},{"d":240,"v":149,"k":"n"},{"d":241,"v":77,"k":"g"},{"d":242,"v":220,"k":"r"},{"d":243,"v":92,"k":"r"},{"d":244,"v":90,"k":"r"},{"d":245,"v":131,"k":"r"},{"d":247,"v":46,"k":"r"},{"d":248,"v":46,"k":"r"},{"d":250,"v":77,"k":"r"},{"d":251,"v":77,"k":"g"},{"d":252,"v":136,"k":"n"},{"d":253,"v":77,"k":"r"},{"d":254,"v":20,"k":"r"},{"d":256,"v":85,"k":"r"},{"d":257,"v":8,"k":"n"},{"d":258,"v":85,"k":"r"},{"d":259,"v":46,"k":"g"},
{"d":260,"v":154,"k":"r"},{"d":261,"v":38,"k":"r"},{"d":262,"v":20,"k":"g"},{"d":263,"v":8,"k":"n"},{"d":264,"v":41,"k":"n"},{"d":265,"v":41,"k":"r"},{"d":266,"v":33,"k":"r"},{"d":268,"v":174,"k":"r"},{"d":269,"v":77,"k":"n"},{"d":270,"v":59,"k":"n"},{"d":271,"v":8,"k":"g"},{"d":272,"v":67,"k":"r"},{"d":273,"v":400,"k":"r"},{"d":274,"v":195,"k":"r"},{"d":275,"v":115,"k":"g"},{"d":276,"v":8,"k":"n"},{"d":277,"v":59,"k":"n"},{"d":278,"v":41,"k":"r"},{"d":279,"v":46,"k":"g"},
{"d":280,"v":136,"k":"g"},{"d":281,"v":85,"k":"r"},{"d":282,"v":85,"k":"r"},{"d":283,"v":46,"k":"r"},{"d":284,"v":110,"k":"g"},{"d":285,"v":46,"k":"n"},{"d":287,"v":123,"k":"r"},{"d":288,"v":97,"k":"r"},{"d":289,"v":51,"k":"g"},{"d":290,"v":192,"k":"g"},{"d":291,"v":149,"k":"g"},{"d":292,"v":8,"k":"r"},{"d":294,"v":46,"k":"r"},{"d":295,"v":72,"k":"g"},{"d":296,"v":110,"k":"r"},{"d":297,"v":72,"k":"r"},{"d":298,"v":59,"k":"g"},{"d":299,"v":8,"k":"n"},
{"d":300,"v":2,"k":"r"},{"d":301,"v":8,"k":"r"},{"d":302,"v":77,"k":"n"},{"d":303,"v":20,"k":"r"},{"d":304,"v":20,"k":"g"},{"d":305,"v":2,"k":"n"},{"d":307,"v":46,"k":"r"},{"d":308,"v":20,"k":"g"},{"d":309,"v":33,"k":"r"},{"d":310,"v":8,"k":"n"},{"d":311,"v":46,"k":"r"},{"d":312,"v":59,"k":"r"},{"d":313,"v":67,"k":"r"},{"d":314,"v":8,"k":"g"},{"d":316,"v":51,"k":"g"},{"d":317,"v":59,"k":"r"},{"d":318,"v":67,"k":"g"},{"d":319,"v":67,"k":"r"},
{"d":321,"v":123,"k":"r"},{"d":322,"v":115,"k":"r"},{"d":323,"v":46,"k":"r"},{"d":324,"v":97,"k":"g"},{"d":325,"v":8,"k":"n"},{"d":326,"v":13,"k":"n"},{"d":327,"v":8,"k":"n"},{"d":328,"v":33,"k":"n"},{"d":329,"v":8,"k":"n"},{"d":330,"v":333,"k":"r"},{"d":331,"v":777,"k":"g"},{"d":332,"v":38,"k":"n"},{"d":333,"v":8,"k":"r"},{"d":335,"v":2,"k":"r"},{"d":336,"v":97,"k":"g"},{"d":337,"v":20,"k":"r"},{"d":338,"v":13,"k":"r"},{"d":339,"v":59,"k":"n"},
{"d":341,"v":302,"k":"r"},{"d":342,"v":238,"k":"r"},{"d":343,"v":251,"k":"g"},{"d":344,"v":162,"k":"g"},{"d":345,"v":72,"k":"g"},{"d":346,"v":136,"k":"r"},{"d":347,"v":162,"k":"g"},{"d":348,"v":64,"k":"g"},{"d":349,"v":97,"k":"r"},{"d":350,"v":128,"k":"r"},{"d":351,"v":72,"k":"g"},{"d":352,"v":59,"k":"r"},{"d":353,"v":128,"k":"r"},{"d":354,"v":128,"k":"r"},{"d":355,"v":46,"k":"n"},{"d":356,"v":144,"k":"g"},{"d":358,"v":67,"k":"r"},
{"d":360,"v":85,"k":"n"},{"d":361,"v":33,"k":"r"},{"d":362,"v":144,"k":"g"},{"d":364,"v":128,"k":"g"},{"d":365,"v":46,"k":"n"},{"d":366,"v":174,"k":"g"},{"d":368,"v":110,"k":"r"},{"d":369,"v":110,"k":"g"},{"d":370,"v":418,"k":"g"},{"d":372,"v":200,"k":"g"},{"d":373,"v":102,"k":"r"},{"d":374,"v":110,"k":"r"},{"d":376,"v":777,"k":"g"},{"d":377,"v":308,"k":"r"},{"d":378,"v":85,"k":"g"},
{"d":380,"v":231,"k":"r"},{"d":381,"v":392,"k":"g"},{"d":382,"v":46,"k":"g"},{"d":384,"v":295,"k":"g"},{"d":385,"v":8,"k":"r"},{"d":386,"v":162,"k":"g"},{"d":388,"v":128,"k":"g"},{"d":389,"v":85,"k":"n"},{"d":390,"v":38,"k":"g"},{"d":392,"v":77,"k":"r"},{"d":393,"v":33,"k":"g"},{"d":394,"v":349,"k":"g"},{"d":395,"v":77,"k":"r"},{"d":396,"v":136,"k":"g"},{"d":398,"v":110,"k":"r"},{"d":399,"v":123,"k":"r"},
{"d":400,"v":133,"k":"r"},{"d":401,"v":238,"k":"r"},{"d":402,"v":231,"k":"r"},{"d":403,"v":354,"k":"g"},{"d":404,"v":269,"k":"g"},{"d":405,"v":128,"k":"r"},{"d":406,"v":110,"k":"g"},{"d":407,"v":584,"k":"g"},{"d":408,"v":410,"k":"g"},{"d":410,"v":110,"k":"n"},{"d":411,"v":220,"k":"r"},{"d":412,"v":8,"k":"g"},{"d":413,"v":136,"k":"g"},{"d":415,"v":8,"k":"g"},{"d":416,"v":8,"k":"n"},{"d":417,"v":8,"k":"n"},{"d":418,"v":67,"k":"g"},
{"d":420,"v":20,"k":"n"},{"d":421,"v":41,"k":"r"},{"d":422,"v":85,"k":"r"},{"d":423,"v":92,"k":"n"},{"d":424,"v":51,"k":"r"},{"d":425,"v":136,"k":"r"},{"d":426,"v":297,"k":"r"},{"d":427,"v":431,"k":"g"},{"d":429,"v":264,"k":"r"},{"d":430,"v":38,"k":"r"},{"d":431,"v":72,"k":"g"},{"d":433,"v":110,"k":"g"},{"d":434,"v":213,"k":"g"},{"d":435,"v":269,"k":"n"},{"d":436,"v":46,"k":"r"},{"d":437,"v":231,"k":"g"},{"d":439,"v":154,"k":"g"},
{"d":440,"v":67,"k":"r"},{"d":442,"v":46,"k":"r"},{"d":443,"v":72,"k":"g"},{"d":444,"v":26,"k":"r"},{"d":445,"v":169,"k":"r"},{"d":446,"v":20,"k":"g"},{"d":447,"v":67,"k":"g"},{"d":449,"v":67,"k":"g"},{"d":450,"v":20,"k":"r"},{"d":451,"v":67,"k":"g"},{"d":452,"v":123,"k":"r"},{"d":453,"v":200,"k":"r"},{"d":454,"v":123,"k":"g"},{"d":456,"v":162,"k":"r"},{"d":457,"v":154,"k":"r"},{"d":458,"v":102,"k":"g"},{"d":459,"v":67,"k":"g"},
{"d":460,"v":110,"k":"n"},{"d":461,"v":33,"k":"g"},{"d":462,"v":77,"k":"r"},{"d":464,"v":136,"k":"n"},{"d":465,"v":110,"k":"g"},{"d":466,"v":33,"k":"g"},{"d":467,"v":8,"k":"n"},{"d":469,"v":77,"k":"r"},{"d":470,"v":118,"k":"g"},{"d":471,"v":118,"k":"g"},{"d":472,"v":128,"k":"g"},{"d":473,"v":231,"k":"g"},{"d":474,"v":251,"k":"r"},{"d":475,"v":77,"k":"g"},{"d":476,"v":359,"k":"g"},{"d":477,"v":308,"k":"g"},{"d":478,"v":200,"k":"r"},{"d":479,"v":277,"k":"r"},
{"d":481,"v":200,"k":"r"},{"d":482,"v":302,"k":"r"},{"d":483,"v":123,"k":"n"},{"d":484,"v":282,"k":"r"},{"d":485,"v":200,"k":"g"},{"d":486,"v":215,"k":"r"},{"d":487,"v":51,"k":"g"},{"d":488,"v":213,"k":"r"},{"d":489,"v":174,"k":"g"},{"d":490,"v":533,"k":"g"},{"d":491,"v":392,"k":"g"},{"d":492,"v":46,"k":"r"},{"d":493,"v":92,"k":"r"},{"d":494,"v":51,"k":"g"},{"d":495,"v":97,"k":"r"},{"d":496,"v":33,"k":"g"},{"d":497,"v":15,"k":"n"},{"d":499,"v":33,"k":"n"}
]
},
"vconcat":[
{"width":788,"height":371,
"layer":[
{"data":{"name":"px"},"mark":{"type":"rule","color":"black","strokeWidth":1.2,"clip":true},
"encoding":{"x":{"field":"d","type":"quantitative","scale":{"domain":[0,500.5],"nice":false,"zero":false},"axis":{"values":[21.6,43.1,62.8,85,105.3,126.8,147.1,167.1,189,209.3,229.6,249.2,271.4,291.1,312,334.2,353.9,376.1,396.4,416.7,438.2,458.6,479.5],"grid":true,"labels":false,"orient":"bottom"}},
"y":{"field":"l","type":"quantitative","scale":{"domain":[0.885,2.894],"nice":false,"zero":false},"axis":{"orient":"right","values":[1,1.1,1.2,1.3,1.4,1.5,1.6,1.7,1.8,1.9,2,2.1,2.2,2.3,2.4,2.5,2.6,2.7,2.8],"format":".2f","grid":true,"labelPadding":5}},
"y2":{"field":"h"}}},
{"data":{"name":"px"},"mark":{"type":"square","size":4,"color":"#ff0000","opacity":1,"filled":true},
"encoding":{"x":{"field":"d","type":"quantitative"},"y":{"field":"c","type":"quantitative"}}},
{"data":{"name":"ma"},"mark":{"type":"line","strokeWidth":1,"clip":true},
"encoding":{"x":{"field":"d","type":"quantitative"},"y":{"field":"p","type":"quantitative"},"color":{"field":"k","type":"nominal","scale":{"domain":["a","b"],"range":["#ff00ff","#0000ff"]},"legend":null}}},
{"data":{"values":[{"t":"Cdn:AMX"}]},"mark":{"type":"text","align":"left","baseline":"top","fontSize":13,"font":"Liberation Sans","color":"black"},
"encoding":{"x":{"datum":5.9},"y":{"datum":2.877},"text":{"field":"t"}}}
]},
{"width":788,"height":106,
"layer":[
{"data":{"name":"vol"},"mark":{"type":"rule","strokeWidth":2},
"encoding":{"x":{"field":"d","type":"quantitative","scale":{"domain":[0,500.5],"nice":false,"zero":false},"axis":{"values":[21.6,43.1,62.8,85,105.3,126.8,147.1,167.1,189,209.3,229.6,249.2,271.4,291.1,312,334.2,353.9,376.1,396.4,416.7,438.2,458.6,479.5],"grid":true,"labels":false,"orient":"bottom"}},
"y":{"field":"v","type":"quantitative","scale":{"domain":[-23,792],"nice":false,"zero":false},"axis":{"orient":"right","values":[200,400,600],"labelExpr":"datum.value + ' k'","grid":true,"labelPadding":5}},
"y2":{"datum":-23},
"color":{"field":"k","type":"nominal","scale":{"domain":["g","r","n"],"range":["#50b850","#ff0000","#a8a8a8"]},"legend":null}}},
{"data":{"values":[{"t":"Volume"}]},"mark":{"type":"text","align":"left","baseline":"top","fontSize":13,"font":"Liberation Sans","color":"black"},
"encoding":{"x":{"datum":5.9},"y":{"datum":772},"text":{"field":"t"}}}
]},
{"width":788,"height":31,
"layer":[
{"data":{"values":[{"d":167.1},{"d":416.7}]},"mark":{"type":"rule","color":"black","strokeWidth":1.5},
"encoding":{"x":{"field":"d","type":"quantitative","scale":{"domain":[0,500.5],"nice":false,"zero":false},"axis":null},"y":{"datum":0,"scale":{"domain":[0,2],"nice":false,"zero":false},"axis":null},"y2":{"datum":2}}},
{"data":{"values":[{"y":1}]},"mark":{"type":"rule","color":"black","strokeWidth":2},
"encoding":{"y":{"field":"y","type":"quantitative"}}},
{"data":{"values":[{"d":83.3,"t":"2022"},{"d":291.5,"t":"2023"},{"d":458.6,"t":"2024"}]},"mark":{"type":"text","fontSize":14,"font":"Liberation Sans","color":"black","baseline":"middle","align":"center"},
"encoding":{"x":{"field":"d","type":"quantitative"},"y":{"datum":0.5},"text":{"field":"t"}}}
]}
]
}
